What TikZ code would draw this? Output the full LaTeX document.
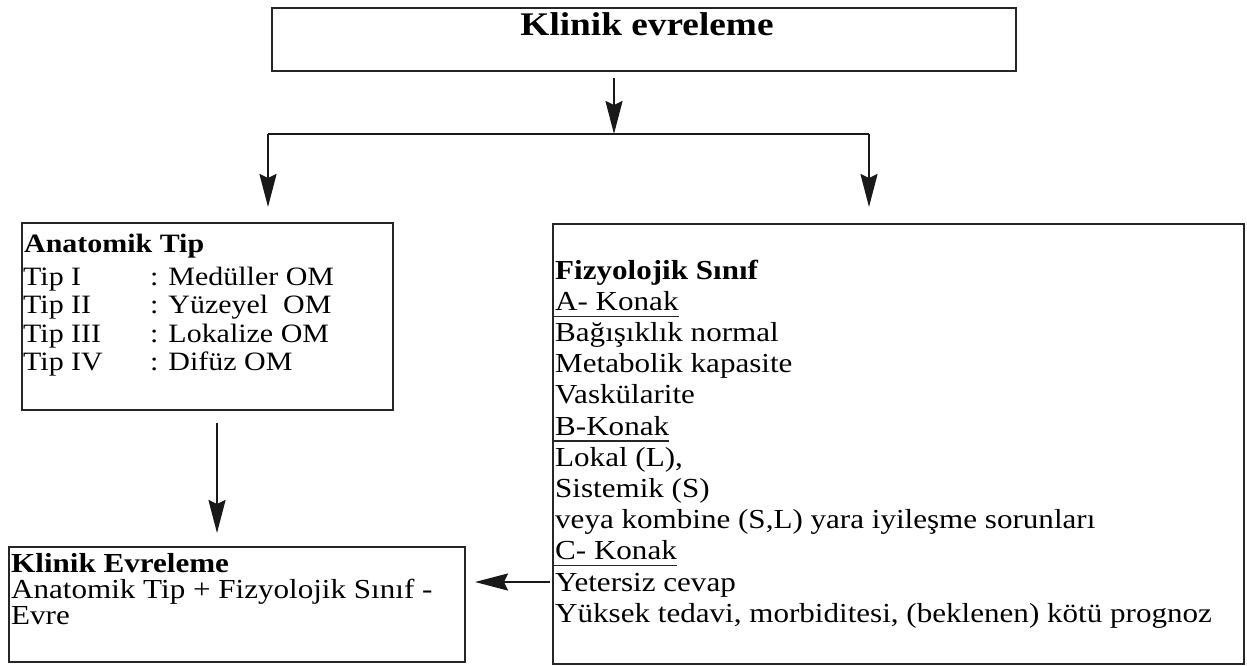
\documentclass[tikz,border=0pt]{standalone}
\usepackage{fontspec}
\setmainfont{Liberation Serif}[FakeStretch=1.13]
\usetikzlibrary{arrows.meta}
\tikzset{
  box/.style={draw=black!85, line width=1.6pt, outer sep=0pt, inner sep=0pt, anchor=north west},
  conn/.style={draw=black!90, line width=2.2pt, -{Stealth[length=33pt,width=17pt,inset=4pt]}},
  plain/.style={draw=black!90, line width=2.2pt},
  rtxt/.style={anchor=base west, inner sep=0pt, font=\fontsize{27.5}{31}\selectfont},
  atxt/.style={anchor=base west, inner sep=0pt, font=\fontsize{26.5}{30}\selectfont},
  btxt/.style={anchor=base west, inner sep=0pt, font=\fontsize{27.5}{30}\selectfont},
  uline/.style={draw=black!85, line width=1.3pt}
}
\begin{document}
\begin{tikzpicture}[x=1pt,y=-1pt]
\useasboundingbox (0,0) rectangle (1247,666);
% boxes
\node[box, minimum width=744pt, minimum height=63pt] (T) at (272,8) {};
\node[box, minimum width=371pt, minimum height=187pt] (A) at (22,223) {};
\node[box, minimum width=691pt, minimum height=440pt] (R) at (553,224) {};
\node[box, minimum width=456pt, minimum height=115pt] (E) at (9,547) {};
% title
\node[anchor=base, inner sep=0pt, font=\bfseries\fontsize{33}{40}\selectfont] (Tt) at (647,36) {Klinik evreleme};
% anatomik box text
\node[atxt, font=\bfseries\fontsize{26.5}{30}\selectfont] (a0) at (24,252) {Anatomik Tip};
\node[atxt] (a1) at (23,285) {Tip I};
\node[atxt] (a2) at (23,313) {Tip II};
\node[atxt] (a3) at (23,342) {Tip III};
\node[atxt] (a4) at (23,370) {Tip IV};
\node[atxt] (c1) at (150,285) {: Medüller OM};
\node[atxt] (c2) at (150,313) {: Yüzeyel\ \ OM};
\node[atxt] (c3) at (150,342) {: Lokalize OM};
\node[atxt] (c4) at (150,370) {: Difüz OM};
% right box text
\node[rtxt, font=\bfseries\fontsize{27.5}{31}\selectfont] (r1) at (555,279) {Fizyolojik Sınıf};
\node[rtxt] (r2) at (555,310.2) {A- Konak};
\node[rtxt] (r3) at (555,341.4) {Bağışıklık normal};
\node[rtxt] (r4) at (555,372.6) {Metabolik kapasite};
\node[rtxt] (r5) at (555,403.8) {Vaskülarite};
\node[rtxt] (r6) at (555,435) {B-Konak};
\node[rtxt] (r7) at (555,466.2) {Lokal (L),};
\node[rtxt] (r8) at (555,497.4) {Sistemik (S)};
\node[rtxt] (r9) at (555,528.6) {veya kombine (S,L) yara iyileşme sorunları};
\node[rtxt] (r10) at (555,559.8) {C- Konak};
\node[rtxt] (r11) at (555,591) {Yetersiz cevap};
\node[rtxt] (r12) at (555,622.2) {Yüksek tedavi, morbiditesi, (beklenen) kötü prognoz};
\foreach \n in {r2,r6,r10}{
  \draw[uline] ([yshift=-6pt]R.west |- \n.base) -- ([yshift=-6pt]\n.base east);
}
% bottom box text
\node[btxt, font=\bfseries\fontsize{27.5}{30}\selectfont] (e1) at (11,572) {Klinik Evreleme};
\node[btxt] (e2) at (11,598) {Anatomik Tip + Fizyolojik Sınıf -};
\node[btxt] (e3) at (11,624) {Evre};
% connectors
\coordinate (J) at (614,134);
\coordinate (JL) at (268,134);
\coordinate (JR) at (869,134);
\coordinate (xl) at (217,0);
\coordinate (ya) at (0,582);
\draw[conn, shorten <=7pt] (T.south -| J) -- (J);
\draw[plain] (JL) -- (JR);
\draw[conn, shorten >=16pt] (JL) -- (A.north -| JL);
\draw[conn, shorten >=17pt] (JR) -- (R.north -| JR);
\draw[conn, shorten <=13pt, shorten >=14pt] (A.south -| xl) -- (E.north -| xl);
\draw[conn, shorten <=3pt, shorten >=10pt] (R.west |- ya) -- (E.east |- ya);
\end{tikzpicture}
\end{document}
